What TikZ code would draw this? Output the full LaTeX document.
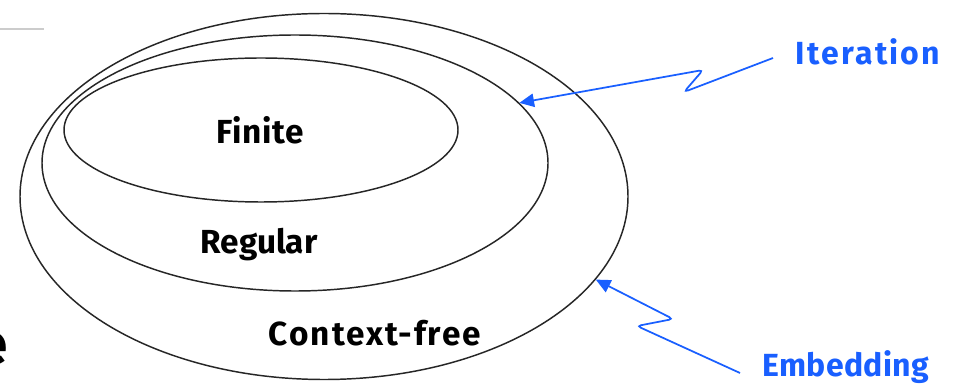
\documentclass[tikz,border=0pt]{standalone}
\usepackage{fontspec}
\setmainfont{Fira Sans}
\usetikzlibrary{shapes.geometric,arrows.meta}
\definecolor{arrowblue}{RGB}{25,95,255}
\begin{document}
\begin{tikzpicture}[x=0.75pt,y=-0.75pt,
  setring/.style={draw=black!85, line width=1.1pt, ellipse, inner sep=0pt},
  setlabel/.style={font=\fontsize{25}{30}\selectfont\bfseries, text=black, inner sep=0pt},
  bluelabel/.style={font=\fontsize{24}{28}\selectfont\bfseries, text=arrowblue, inner sep=0pt},
  zigarrow/.style={draw=arrowblue, line width=1.3pt, rounded corners=3pt,
    -{Triangle[length=11pt,width=10pt]}}]
\useasboundingbox (0,0) rectangle (959,384);
\fill[white] (0,0) rectangle (959,384);

% stray rule at the top left
\draw[black!20, line width=1.5pt] (0,29) -- (44,29);

% nested language classes
\node[setring, minimum width=456pt, minimum height=274.5pt] (cf) at (324,196.5) {};
\node[setring, minimum width=379.5pt, minimum height=192pt] (reg) at (295,163) {};
\node[setring, minimum width=295.5pt, minimum height=108pt] (fin) at (261,130) {};

\node[setlabel] (finLabel) at (260,130) {\addfontfeatures{LetterSpace=2}Finite};
\node[setlabel] (regLabel) at (259,245) {Regular};
\node[setlabel] (cfLabel) at (375,333) {\addfontfeatures{LetterSpace=6}Context-free};

% partly cut letter at the left edge
\node[font=\fontsize{44}{50}\selectfont\bfseries, inner sep=0pt, anchor=east] (cut) at (8,349) {e};

% operation labels with zig-zag arrows
\node[bluelabel] (iter) at (868,52) {\addfontfeatures{LetterSpace=7}Iteration};
\node[bluelabel] (emb) at (846,367) {\addfontfeatures{LetterSpace=1}Embedding};

\coordinate (iterStart) at (773,58);
\coordinate (embStart) at (740,373);

\draw[zigarrow] (iterStart) -- (684,92) -- (703,70) -- (reg.15.4);
\draw[zigarrow] (embStart) -- (637,326) -- (673,319) -- (cf.-17.7);
\end{tikzpicture}
\end{document}
